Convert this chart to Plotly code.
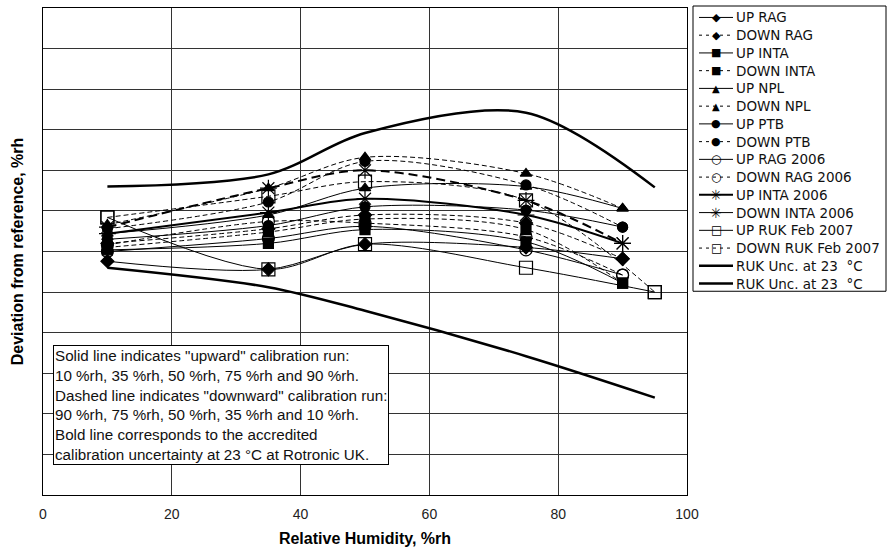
import plotly.graph_objects as go

# ---------------- data ----------------
x_main = [10, 35, 50, 75, 90]
x_ruk = [10, 35, 50, 75, 95]

up_rag = [-0.12, -0.22, 0.09, 0.05, -0.09]
down_rag = [0.10, 0.28, 0.45, 0.35, -0.09]
up_inta = [0.02, 0.10, 0.27, 0.12, -0.39]
down_inta = [0.05, 0.24, 0.40, 0.27, -0.39]
up_npl = [0.22, 0.45, 0.78, 0.80, 0.53]
down_npl = [0.33, 0.78, 1.16, 0.96, 0.53]
up_ptb = [0.15, 0.32, 0.55, 0.51, 0.30]
down_ptb = [0.28, 0.61, 1.11, 0.82, 0.30]
up_rag06 = [0.00, 0.16, 0.31, 0.02, -0.29]
down_rag06 = [0.08, 0.37, 0.35, 0.18, -0.29]
up_inta06 = [0.22, 0.48, 0.65, 0.45, 0.10]
down_inta06 = [0.30, 0.78, 1.00, 0.63, 0.10]
up_ruk07 = [0.42, -0.22, 0.09, -0.20, -0.50]
down_ruk07 = [0.42, 0.68, 0.86, 0.63, -0.50]

unc_x = [10, 35, 50, 75, 95]
unc_upper = [0.80, 0.95, 1.46, 1.71, 0.79]
unc_lower = [-0.20, -0.44, -0.73, -1.29, -1.80]

x_ticks = [0, 20, 40, 60, 80, 100]

unc_name = "RUK Unc. at 23 \u00a0°C"

# (name, x, y, plot symbol, legend glyph, dashed?, bold?)
series = [
    ("UP RAG", x_main, up_rag, "diamond", "◆", False, False),
    ("DOWN RAG", x_main, down_rag, "diamond", "◆", True, False),
    ("UP INTA", x_main, up_inta, "square", "■", False, False),
    ("DOWN INTA", x_main, down_inta, "square", "■", True, False),
    ("UP NPL", x_main, up_npl, "triangle-up", "▲", False, False),
    ("DOWN NPL", x_main, down_npl, "triangle-up", "▲", True, False),
    ("UP PTB", x_main, up_ptb, "circle", "●", False, False),
    ("DOWN PTB", x_main, down_ptb, "circle", "●", True, False),
    ("UP RAG 2006", x_main, up_rag06, "circle-open", "○", False, False),
    ("DOWN RAG 2006", x_main, down_rag06, "circle-open", "○", True, False),
    ("UP INTA 2006", x_main, up_inta06, "asterisk-open", "✳", False, True),
    ("DOWN INTA 2006", x_main, down_inta06, "asterisk-open", "✳", True, True),
    ("UP RUK Feb 2007", x_ruk, up_ruk07, "square-open", "□", False, False),
    ("DOWN RUK Feb 2007", x_ruk, down_ruk07, "square-open", "□", True, False),
]

FONT = "Liberation Sans, Arial, Helvetica, sans-serif"
LFONT = "DejaVu Sans, Liberation Sans, sans-serif"

fig = go.Figure()
for name, xs, ys, sym, glyph, dashed, bold in series:
    size = 10
    if sym == "asterisk-open":
        size = 14
    elif sym == "square-open":
        size = 13
    elif sym == "circle-open":
        size = 12
    w = 2 if bold else 1
    if dashed:
        d = "9px,5px" if bold else "5px,3px"
    else:
        d = "solid"
    fig.add_trace(go.Scatter(
        x=xs, y=ys, name=name, mode="lines+markers", showlegend=False,
        line=dict(color="black", width=w, dash=d, shape="spline", smoothing=0.9),
        marker=dict(symbol=sym, size=size, color="black",
                    line=dict(color="black", width=1.2)),
    ))

for ys in (unc_upper, unc_lower):
    fig.add_trace(go.Scatter(
        x=unc_x, y=ys, name=unc_name, mode="lines", showlegend=False,
        line=dict(color="black", width=2.5, shape="spline", smoothing=0.9),
    ))

# ---------------- layout helpers (pixel -> paper) ----------------
L, R, T, B = 43, 687, 7, 497
def px(p):
    return (p - L) / (R - L)
def py(p):
    return (B - p) / (B - T)

# ---------------- custom legend ----------------
fig.add_shape(type="rect", xref="paper", yref="paper",
              x0=px(693), x1=px(886), y0=py(5), y1=py(292),
              line=dict(color="black", width=1), fillcolor="white", layer="above")

legend_rows = [(s[0], s[4], s[5], s[6]) for s in series]
legend_rows[11] = (legend_rows[11][0], legend_rows[11][1], False, False)  # drawn thin solid in original legend
legend_rows.append((unc_name, None, False, "unc"))
legend_rows.append((unc_name, None, False, "unc"))

row0, step = 16.5, 17.85
for i, (name, glyph, dashed, bold) in enumerate(legend_rows):
    yy = row0 + i * step
    if bold == "unc":
        lw = 2.5
    elif bold:
        lw = 2
    else:
        lw = 1
    fig.add_shape(type="line", xref="paper", yref="paper",
                  x0=px(699), x1=px(733), y0=py(yy), y1=py(yy),
                  line=dict(color="black", width=lw, dash=("3px,4px" if dashed else "solid")),
                  layer="above")
    if glyph:
        gsize = 11 if glyph not in ("○", "□", "✳") else 12
        if glyph == "▲":
            gsize = 10
        if glyph == "✳":
            gsize = 14
        fig.add_annotation(x=px(716), y=py(yy), xref="paper", yref="paper",
                           xanchor="center", yanchor="middle", showarrow=False,
                           text=glyph, font=dict(family=LFONT, size=gsize, color="black"),
                           borderpad=0)
    fig.add_annotation(x=px(735), y=py(yy), xref="paper", yref="paper",
                       xanchor="left", yanchor="middle", showarrow=False,
                       text=name, font=dict(family=LFONT, size=13.5, color="#111"),
                       borderpad=0)

note = ("Solid line indicates \"upward\" calibration run:<br>"
        "10 %rh, 35 %rh, 50 %rh, 75 %rh and 90 %rh.<br>"
        "Dashed line indicates \"downward\" calibration run:<br>"
        "90 %rh, 75 %rh, 50 %rh, 35 %rh and 10 %rh.<br>"
        "Bold line corresponds to the accredited<br>"
        "calibration uncertainty at 23 °C at Rotronic UK.")

fig.add_annotation(
    x=1.5, y=-1.155, xref="x", yref="y", xanchor="left", yanchor="top",
    text=note, showarrow=False, align="left",
    font=dict(family=FONT, size=15.2, color="#111"),
    bgcolor="white", bordercolor="black", borderwidth=1, borderpad=1,
)

fig.update_layout(
    width=891, height=552,
    margin=dict(l=L, r=891 - R, t=T, b=552 - B),
    paper_bgcolor="white", plot_bgcolor="white",
    font=dict(family=FONT, color="black"),
    showlegend=False,
    xaxis=dict(
        range=[0, 100], tickvals=x_ticks, ticktext=[str(t) for t in x_ticks],
        showgrid=True, gridcolor="#333", gridwidth=1, zeroline=False,
        showline=True, linecolor="black", linewidth=1, mirror=True,
        ticks="", ticklabelstandoff=6, tickfont=dict(family=FONT, size=14, color="#222"),
        title=dict(text="<b>Relative Humidity, %rh</b>", font=dict(family=FONT, size=16), standoff=12),
    ),
    yaxis=dict(
        range=[-3, 3], dtick=0.5, showticklabels=False,
        showgrid=True, gridcolor="#333", gridwidth=1, zeroline=False,
        showline=True, linecolor="black", linewidth=1, mirror=True, ticks="",
        title=dict(text="<b>Deviation from reference, %rh</b>", font=dict(family=FONT, size=16), standoff=14),
    ),
)

fig.write_html("out.html")
